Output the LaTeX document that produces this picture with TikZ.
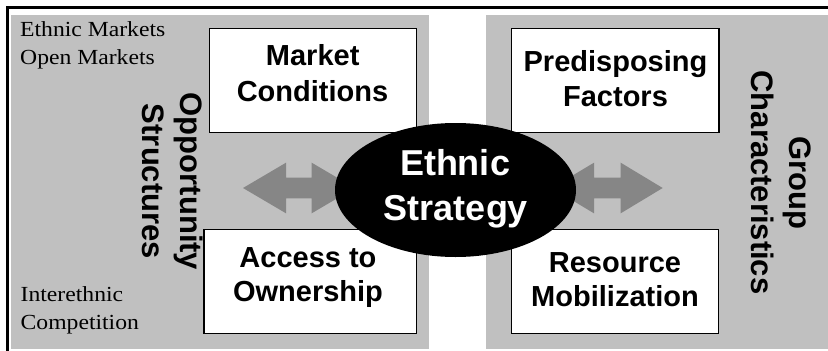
\documentclass[tikz,border=0pt]{standalone}
\usepackage{fontspec}
\setmainfont{Liberation Serif}
\newfontfamily\labelsans{Liberation Sans}
\newfontfamily\cornerserif[FakeStretch=1.10]{Liberation Serif}
\usetikzlibrary{shapes.geometric}
\definecolor{panelgray}{RGB}{192,192,192}
\definecolor{arrowgray}{RGB}{134,134,134}
\tikzset{
  panel/.style={fill=panelgray},
  boxnode/.style={draw=black, fill=white, line width=1.5pt, rectangle, inner sep=0pt},
  boxtext/.style={anchor=base, inner sep=0pt, font=\labelsans\bfseries\fontsize{29}{35}\selectfont},
  sidetext/.style={anchor=base, inner sep=0pt, rotate=-90, font=\labelsans\bfseries\fontsize{31}{38}\selectfont},
  centertext/.style={anchor=base, inner sep=0pt, text=white, font=\labelsans\bfseries\fontsize{36}{45}\selectfont},
  cornertext/.style={anchor=base west, inner sep=0pt, font=\cornerserif\fontsize{21.5}{28}\selectfont},
  fatarrow/.style={fill=arrowgray},
  frameline/.style={line width=2.4pt, draw=black}
}
\begin{document}
\begin{tikzpicture}[x=1pt,y=-1pt]
\useasboundingbox (0,0) rectangle (828,351);
\fill[white] (0,0) rectangle (828,351);
% panels
\fill[panel] (11,15) rectangle (428.5,349);
\fill[panel] (486,15) rectangle (828,349);
% frame
\draw[frameline] (7.5,351) -- (7.5,7.5) -- (828,7.5);
% corner texts
\node[cornertext] (em) at (20,36.7) {Ethnic Markets};
\node[cornertext] (om) at (20,64.3) {Open Markets};
\node[cornertext] (ie) at (20.5,301.7) {Interethnic};
\node[cornertext] (co) at (20.5,329.3) {Competition};
% side titles
\node[sidetext] (opp) at (180,181.5) {Opportunity};
\node[sidetext] (str) at (142.5,181.5) {Structures};
\node[sidetext] (grp) at (789.5,182.5) {Group};
\node[sidetext] (chr) at (751,182.5) {Characteristics};
% arrows
\fill[fatarrow] (243,188) -- (286,162.7) -- (286,177.7) -- (311.7,177.7) -- (311.7,162.7)
  -- (354.7,188) -- (311.7,213.3) -- (311.7,198.3) -- (286,198.3) -- (286,213.3) -- cycle;
\fill[fatarrow] (551.7,188) -- (594,162.7) -- (594,177.7) -- (620.7,177.7) -- (620.7,162.7)
  -- (662.7,188) -- (620.7,213.3) -- (620.7,198.3) -- (594,198.3) -- (594,213.3) -- cycle;
% boxes
\node[boxnode, minimum width=207pt, minimum height=104pt] (mc) at (313,80.5) {};
\node[boxnode, minimum width=212.5pt, minimum height=104pt] (ao) at (310.25,281.5) {};
\node[boxnode, minimum width=207.7pt, minimum height=104pt] (pf) at (615.15,80.5) {};
\node[boxnode, minimum width=207.4pt, minimum height=104pt] (rm) at (615,281.5) {};
\node[boxtext] (mc1) at (312.7,65.7) {Market};
\node[boxtext] (mc2) at (312.5,101) {Conditions};
\node[boxtext] (ao1) at (308,267) {Access to};
\node[boxtext] (ao2) at (308,301) {Ownership};
\node[boxtext] (pf1) at (615.5,71.7) {Predisposing};
\node[boxtext] (pf2) at (615.5,106) {Factors};
\node[boxtext] (rm1) at (615,272) {Resource};
\node[boxtext] (rm2) at (615,306) {Mobilization};
% central ellipse
\node[ellipse, fill=black, minimum width=241pt, minimum height=134pt, inner sep=0pt] (es) at (455.5,190) {};
\node[centertext] (es1) at (455,175) {Ethnic};
\node[centertext] (es2) at (456,220) {Strategy};
\end{tikzpicture}
\end{document}
